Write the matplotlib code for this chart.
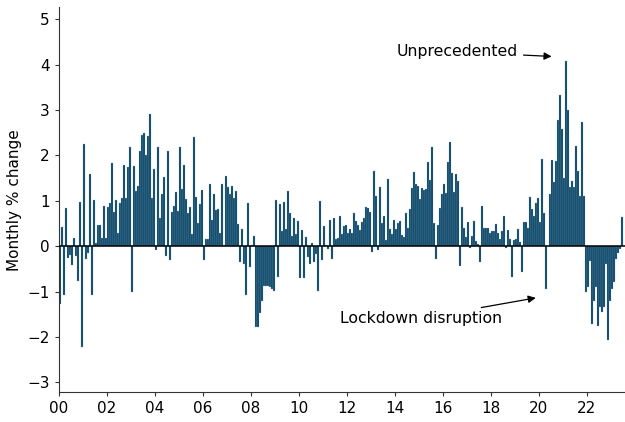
import numpy as np
import matplotlib
matplotlib.use("Agg")
import matplotlib.pyplot as plt

# monthly % change, Jan 2000 onwards
vals_00_03 = [-1.27, 0.43, -1.07, 0.84, -0.26, -0.19, -0.41, 0.18, -0.22, -0.77, 0.97, -2.23,
              2.24, -0.29, -0.14, 1.59, -1.08, 1.01, 0.06, 0.47, 0.47, 0.18, 0.89, 0.17,
              0.86, 0.94, 1.83, 0.75, 1.01, 0.28, 0.95, 1.05, 1.78, 1.05, 1.75, 2.18,
              -1.02, 1.76, 1.22, 1.33, 2.10, 2.46, 2.49, 2.00, 2.42, 2.92, 1.07, 1.69]
vals_04_07 = [-0.08, 2.19, 0.61, 1.14, 1.52, -0.22, 2.09, -0.31, 0.76, 0.88, 1.20, 0.77,
              2.18, 1.27, 1.79, 1.03, 0.73, 0.86, 0.26, 2.40, 1.08, 0.51, 0.93, 1.23,
              -0.31, 0.15, 0.15, 1.36, 0.58, 1.16, 0.79, 0.82, 0.29, 1.36, 0.03, 1.55,
              1.30, 1.16, 1.33, 1.07, 1.22, 0.48, -0.36, 0.37, -0.40, -1.08, 0.95, -0.45]
vals_08_11 = [0.02, 0.23, -1.79, -1.79, -1.47, -1.20, -0.88, -0.88, -0.88, -0.90, -0.95, -0.98,
              1.01, -0.67, 0.92, 0.34, 0.98, 0.37, 1.21, 0.73, 0.23, 0.61, 0.26, 0.55,
              -0.70, 0.35, -0.70, 0.20, -0.25, -0.40, 0.07, -0.36, -0.18, -0.98, 1.00, -0.30,
              0.44, 0.03, -0.07, 0.57, -0.29, 0.62, 0.15, 0.18, 0.66, 0.26, 0.45, 0.47]
vals_12_15 = [0.30, 0.37, 0.30, 0.74, 0.56, 0.46, 0.36, 0.53, 0.62, 0.86, 0.85, 0.75,
              -0.12, 1.66, 1.10, -0.08, 1.30, 0.50, 0.67, 0.13, 1.49, 0.37, 0.26, 0.58,
              0.37, 0.51, 0.56, 0.25, 0.20, 0.73, 0.41, 0.81, 1.29, 1.64, 1.38, 1.33,
              1.03, 1.29, 1.23, 1.25, 1.85, 1.45, 2.18, 0.52, -0.29, 0.47, 0.83, 1.16]
vals_16_19 = [1.38, 1.18, 1.85, 2.29, 1.61, 1.19, 1.58, 1.44, -0.43, 0.86, 0.39, 0.20,
              0.54, -0.03, 0.23, 0.56, 0.12, 0.04, -0.34, 0.89, 0.40, 0.40, 0.40, 0.29,
              0.33, 0.33, 0.48, 0.30, 0.15, 0.34, 0.66, -0.03, 0.35, 0.15, -0.67, 0.13,
              0.15, 0.37, 0.10, -0.56, 0.53, 0.53, 0.41, 1.09, 0.81, 0.67, 0.95, 1.05]
vals_20_23 = [0.53, 1.91, 0.74, -0.95, 0.00, 1.16, 1.89, 1.41, 1.88, 2.78, 3.32, 2.59,
              1.51, 4.07, 2.99, 1.31, 1.44, 1.31, 2.20, 1.66, 1.11, 2.73, 1.11, -1.02,
              -0.89, -0.32, -1.71, -1.20, -0.89, -1.77, -1.35, -1.46, -1.35, -0.40, -2.06, -1.20,
              -0.95, -0.80, -0.29, -0.15, -0.07, 0.64]

values = np.array(vals_00_03 + vals_04_07 + vals_08_11 + vals_12_15 + vals_16_19 + vals_20_23)
months = 2000 + np.arange(len(values)) / 12.0

year_ticks = list(range(2000, 2023, 2))
year_labels = ['%02d' % (y % 100) for y in year_ticks]

bar_color = '#023f62'

plt.rcParams['font.family'] = 'DejaVu Sans'
fig = plt.figure(figsize=(6.25, 4.22), dpi=100)
ax = fig.add_axes([0.094, 0.0704, 0.906, 0.912])

# thin light edges to mimic the separated bars of the original
ax.bar(months, values, width=1 / 12, align='edge', color=bar_color,
       edgecolor='#9fb8c8', linewidth=0.2)
ax.axhline(0, color='black', linewidth=1.1, zorder=3)

ax.set_xlim(2000, 2023.6)
ax.set_ylim(-3.22, 5.26)
ax.set_xticks(year_ticks)
ax.set_xticklabels(year_labels)
ax.set_yticks(range(-3, 6))
ax.tick_params(labelsize=11, length=3, color='#333333')
for s in ['top', 'right']:
    ax.spines[s].set_visible(False)
for s in ['left', 'bottom']:
    ax.spines[s].set_color('#333333')
ax.set_ylabel('Monthly % change', fontsize=11, labelpad=4)

ax.annotate('Unprecedented', xy=(2020.54, 4.18), xytext=(2019.14, 4.28),
            fontsize=11.3, ha='right', va='center',
            arrowprops=dict(arrowstyle='-|>', color='black', lw=0.9, mutation_scale=11,
                            shrinkA=2, shrinkB=0))
ax.annotate('Lockdown disruption', xy=(2019.88, -1.14), xytext=(2018.46, -1.59),
            fontsize=11.3, ha='right', va='center',
            arrowprops=dict(arrowstyle='-|>', color='black', lw=0.9, mutation_scale=11,
                            shrinkA=2, shrinkB=0))

fig.savefig('out.png', dpi=100)
